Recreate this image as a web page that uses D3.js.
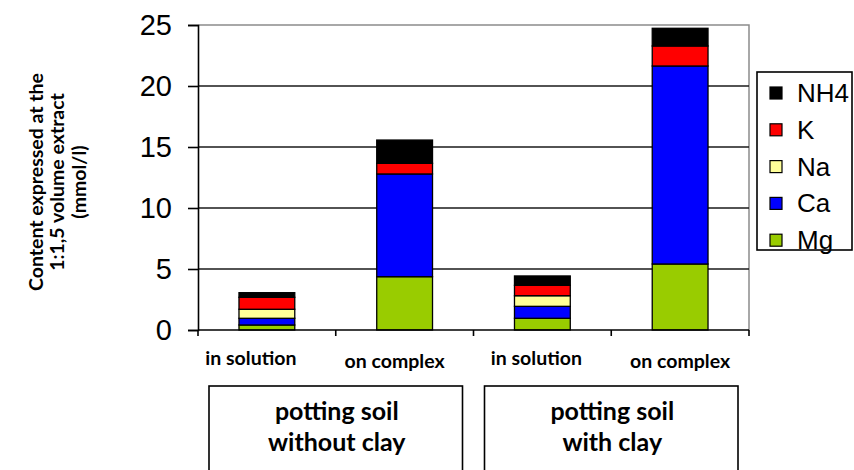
<!DOCTYPE html>
<html>
<head>
<meta charset="utf-8">
<script src="https://cdn.jsdelivr.net/npm/d3@7"></script>
<style>
  html, body { margin: 0; padding: 0; background: #fff; }
  svg { display: block; }
</style>
</head>
<body>
<svg id="chart" width="854" height="470"></svg>
<script>
// Cation content per extraction, stacked bottom to top: Mg, Ca, Na, K, NH4 (mmol/l)
const categories = ["in solution", "on complex", "in solution", "on complex"];
const groups = [["potting soil", "without clay"], ["potting soil", "with clay"]];
const seriesKeys = ["Mg", "Ca", "Na", "K", "NH4"];
const Mg  = [0.41, 4.37, 0.96, 5.41];
const Ca  = [0.55, 8.42, 0.98, 16.23];
const Na  = [0.74, 0.00, 0.87, 0.00];
const K   = [0.98, 0.87, 0.85, 1.64];
const NH4 = [0.38, 1.91, 0.77, 1.45];
const yTicks = [0, 5, 10, 15, 20, 25];
const legendOrder = ["NH4", "K", "Na", "Ca", "Mg"];
const yTitle = ["Content expressed at the", "1:1,5 volume extract", "(mmol/l)"];

const colors = { Mg: "#99cc00", Ca: "#0000ff", Na: "#ffff99", K: "#ff0000", NH4: "#000000" };
const values = { Mg, Ca, Na, K, NH4 };

const rows = categories.map((c, i) => {
  const r = { idx: i };
  seriesKeys.forEach(k => r[k] = values[k][i]);
  return r;
});

const svg = d3.select("#chart");
const m = { left: 198, right: 105, top: 25, bottom: 140 };
const W = 854, H = 470;
const x = d3.scaleBand().domain(categories.map((c, i) => i))
  .range([m.left, W - m.right]).paddingInner(0.595).paddingOuter(0.2975);
const y = d3.scaleLinear().domain([0, 25]).range([H - m.bottom, m.top]);

const sansFont = "'Liberation Sans', Arial, sans-serif";
const boldFont = "Lato, 'Open Sans', sans-serif";

// plot border (top and right, grey)
svg.append("path")
  .attr("d", `M${m.left},${m.top}H${W - m.right}V${H - m.bottom}`)
  .attr("fill", "none").attr("stroke", "#8c8c8c").attr("stroke-width", 1.5);

// horizontal gridlines
svg.append("g").selectAll("line").data(yTicks.filter(t => t > 0 && t < 25)).join("line")
  .attr("x1", m.left).attr("x2", W - m.right)
  .attr("y1", d => y(d)).attr("y2", d => y(d))
  .attr("stroke", "#1a1a1a").attr("stroke-width", 1.6);

// stacked bars
const stacked = d3.stack().keys(seriesKeys)(rows);
svg.append("g").selectAll("g").data(stacked).join("g")
  .attr("fill", d => colors[d.key])
  .selectAll("rect").data(d => d.filter(s => s[1] - s[0] > 0)).join("rect")
  .attr("x", d => x(d.data.idx))
  .attr("width", x.bandwidth())
  .attr("y", d => y(d[1]))
  .attr("height", d => y(d[0]) - y(d[1]))
  .attr("stroke", "#000").attr("stroke-width", 1.3);

// y axis
const yAxis = svg.append("g").attr("transform", `translate(${m.left},0)`)
  .call(d3.axisLeft(y).tickValues(yTicks).tickSize(10).tickPadding(16));
yAxis.select(".domain").attr("stroke", "#000").attr("stroke-width", 1.6);
yAxis.selectAll(".tick line").attr("stroke", "#000").attr("stroke-width", 1.6);
yAxis.selectAll(".tick text").attr("font-family", sansFont).attr("font-size", 29).attr("fill", "#000");

// x axis with ticks between categories
const xBase = y(0);
svg.append("line").attr("x1", m.left).attr("x2", W - m.right)
  .attr("y1", xBase).attr("y2", xBase).attr("stroke", "#000").attr("stroke-width", 1.6);
const step = x.step();
const boundaries = d3.range(categories.length + 1).map(i => m.left + i * step);
svg.append("g").selectAll("line").data(boundaries).join("line")
  .attr("x1", d => d).attr("x2", d => d)
  .attr("y1", xBase).attr("y2", xBase + 6)
  .attr("stroke", "#000").attr("stroke-width", 1.6);

// category labels (slightly shifted left, as the label frames sit left of the bars)
const labelShift = [-16, -10, -6, 0];
const labelDrop = [0, 3, 0, 3];
svg.append("g").selectAll("text").data(categories).join("text")
  .attr("x", (d, i) => x(i) + x.bandwidth() / 2 + labelShift[i])
  .attr("y", (d, i) => 365 + labelDrop[i])
  .attr("text-anchor", "middle")
  .attr("font-family", boldFont).attr("font-weight", 700).attr("font-size", 19.5)
  .text(d => d);

// group boxes
const perGroup = categories.length / groups.length;
const gBox = svg.append("g").selectAll("g").data(groups).join("g");
gBox.append("rect")
  .attr("x", (d, i) => boundaries[i * perGroup] + 11)
  .attr("width", step * perGroup - 22)
  .attr("y", 386).attr("height", 100)
  .attr("fill", "none").attr("stroke", "#000").attr("stroke-width", 1.6);
gBox.each(function (d, i) {
  const cx = boundaries[i * perGroup] + step * perGroup / 2 + 1;
  d3.select(this).selectAll("text").data(d).join("text")
    .attr("x", cx).attr("y", (t, j) => 420 + j * 31)
    .attr("text-anchor", "middle")
    .attr("font-family", boldFont).attr("font-weight", 700).attr("font-size", 25)
    .text(t => t);
});

// y axis title
const title = svg.append("text")
  .attr("transform", "translate(58,182) rotate(-90)")
  .attr("text-anchor", "middle")
  .attr("font-family", boldFont).attr("font-weight", 700).attr("font-size", 19.5);
title.selectAll("tspan").data(yTitle).join("tspan")
  .attr("x", 0).attr("y", (d, i) => (i - 1) * 21.5 + 6)
  .text(d => d);

// legend
const lg = svg.append("g");
lg.append("rect").attr("x", 757).attr("y", 72).attr("width", 95).attr("height", 178)
  .attr("fill", "#fff").attr("stroke", "#000").attr("stroke-width", 1.6);
const items = lg.selectAll("g.item").data(legendOrder).join("g")
  .attr("class", "item")
  .attr("transform", (d, i) => `translate(770,${93 + i * 36.8})`);
items.append("rect").attr("x", 0).attr("y", -6).attr("width", 12).attr("height", 12)
  .attr("fill", d => colors[d]).attr("stroke", "#000").attr("stroke-width", 1.2);
items.append("text").attr("x", 27).attr("y", 9)
  .attr("font-family", sansFont).attr("font-size", 26)
  .text(d => d);
</script>
</body>
</html>
